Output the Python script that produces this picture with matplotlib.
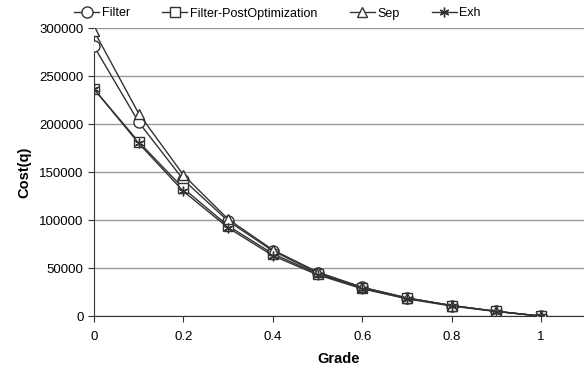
import matplotlib.pyplot as plt
import numpy as np

plt.rcParams['font.family'] = ['Liberation Sans', 'DejaVu Sans']

# dados
grade = [0, 0.1, 0.2, 0.3, 0.4, 0.5, 0.6, 0.7, 0.8, 0.9, 1.0]
filt = [281000, 202000, 142000, 99000, 68000, 45000, 30000, 19000, 11000, 5000, 0]
filt_post = [236500, 181500, 133000, 94000, 65000, 44000, 29000, 18500, 11000, 5000, 0]
sep = [297000, 211000, 147000, 101000, 69000, 46000, 30000, 19000, 11000, 5000, 0]
exh = [236500, 180000, 130000, 92000, 63000, 43000, 28500, 18000, 10500, 4800, 0]

series = [
    ('Filter', filt, 'o', 8),
    ('Filter-PostOptimization', filt_post, 's', 7),
    ('Sep', sep, '^', 7),
    ('Exh', exh, 'x', 7),
]

fig = plt.figure(figsize=(5.84, 3.75), dpi=100)
ax = fig.add_axes([0.161, 0.157, 0.839, 0.768])

for nome, vals, mk, ms in series:
    if mk == 'x':
        ax.plot(grade, vals, color='#333333', lw=1.0, marker=(6, 2, 0), ms=ms,
                mec='#333333', mew=1.0, label=nome, zorder=3)
    else:
        ax.plot(grade, vals, color='#333333', lw=1.0, marker=mk, ms=ms,
                mfc='white', mec='#333333', mew=1.0, label=nome, zorder=3)

ax.set_xlim(0, 1.096)
ax.set_ylim(0, 300000)
ax.set_xticks([0, 0.2, 0.4, 0.6, 0.8, 1])
ax.set_xticklabels(['0', '0.2', '0.4', '0.6', '0.8', '1'])
ax.set_yticks(np.arange(0, 300001, 50000))
ax.yaxis.grid(True, color='#999999', lw=1.0)
ax.set_axisbelow(True)
for s in ['top', 'right']:
    ax.spines[s].set_visible(False)
ax.spines['left'].set_color('#333333')
ax.spines['bottom'].set_color('#333333')
ax.tick_params(axis='both', labelsize=9.5, color='#333333', length=4)
ax.tick_params(axis='x', pad=7)
ax.set_xlabel('Grade', fontsize=10.5, fontweight='bold', labelpad=6)
ax.set_ylabel('Cost(q)', fontsize=10.5, fontweight='bold', labelpad=6)

fig.legend(loc='upper center', bbox_to_anchor=(0.475, 1.01), ncol=4, frameon=False,
           fontsize=9, handlelength=2.0, columnspacing=2.6, handletextpad=0.2)

fig.savefig('out.png', dpi=100)
